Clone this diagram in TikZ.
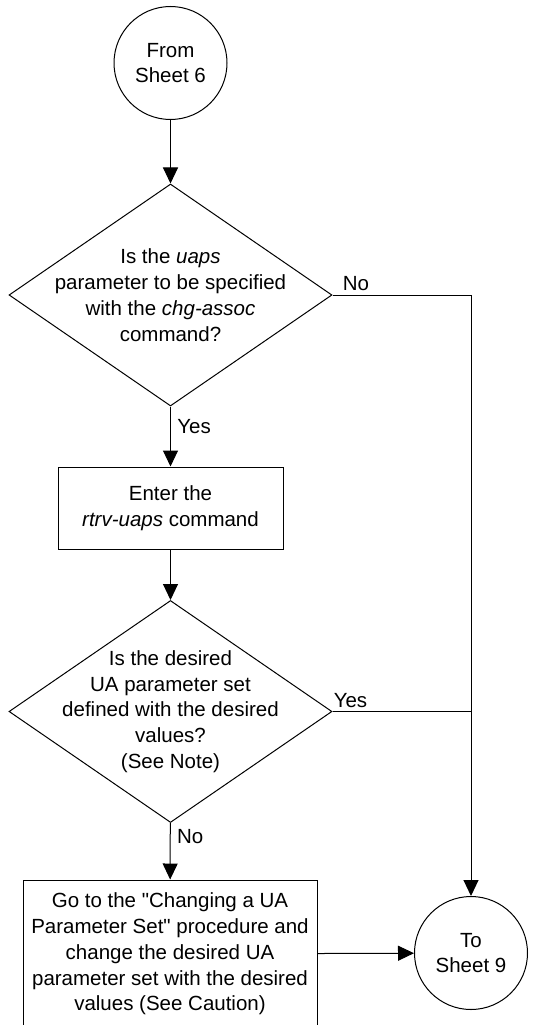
\documentclass[tikz,border=0pt]{standalone}
\usepackage{fontspec}
\setmainfont{Liberation Sans}
\usetikzlibrary{arrows.meta,shapes.geometric}

\begin{document}
\begin{tikzpicture}[
    x=1pt, y=-1pt,
    conn/.style={circle, draw, minimum size=113pt, inner sep=0pt, align=center},
    decision/.style={diamond, draw, minimum width=323pt, minimum height=222pt,
        inner xsep=-70pt, inner ysep=-30pt, align=center},
    stepbox/.style={rectangle, draw, inner sep=0pt, align=center},
    >={Triangle[length=16pt, width=15pt]},
    line width=1pt,
    font=\fontsize{20.5}{25.8}\selectfont
]
    \useasboundingbox (0,0) rectangle (537,1025);
    \clip (0,0) rectangle (537,1025);

    % 节点定义
    \node[conn] (S6) at (170.5,63) {From\\Sheet 6};   % 起始连接符
    \node[decision] (Q1) at (170.5,295)
        {Is the \textit{uaps}\\parameter to be specified\\with the \textit{chg-assoc}\\command?};
    \node[stepbox, minimum width=225pt, minimum height=82pt] (RU) at (170.5,508)
        {Enter the\\\textit{rtrv-uaps} command};
    \node[decision] (Q2) at (170.5,711.5)
        {Is the desired\\UA parameter set\\defined with the desired\\values?\\(See Note)};
    \node[stepbox, minimum width=294pt, minimum height=148pt] (GO) at (170,954)
        {Go to the \textquotedbl Changing a UA\\Parameter Set\textquotedbl{} procedure and\\change the desired UA\\parameter set with the desired\\values (See Caution)};
    \node[conn] (S9) at (471,953) {To\\Sheet 9};          % 结束连接符

    % 1. 主干
    \draw[->] (S6) -- (Q1);
    \draw[->] (Q1) -- node[right, pos=0.33, xshift=3pt] {Yes} (RU);
    \draw[->] (RU) -- (Q2);
    \draw[->] (Q2) -- node[right, pos=0.25, xshift=3pt] {No} (GO);
    \draw[->] (GO) -- (S9);

    % 2. 右侧支路
    \draw[->] (Q1.east) -- node[above, pos=0.17] {No} (Q1.east -| S9) -- (S9);
    \draw (Q2.east) -- node[above, pos=0.13] {Yes} (Q2.east -| S9);

\end{tikzpicture}
\end{document}
